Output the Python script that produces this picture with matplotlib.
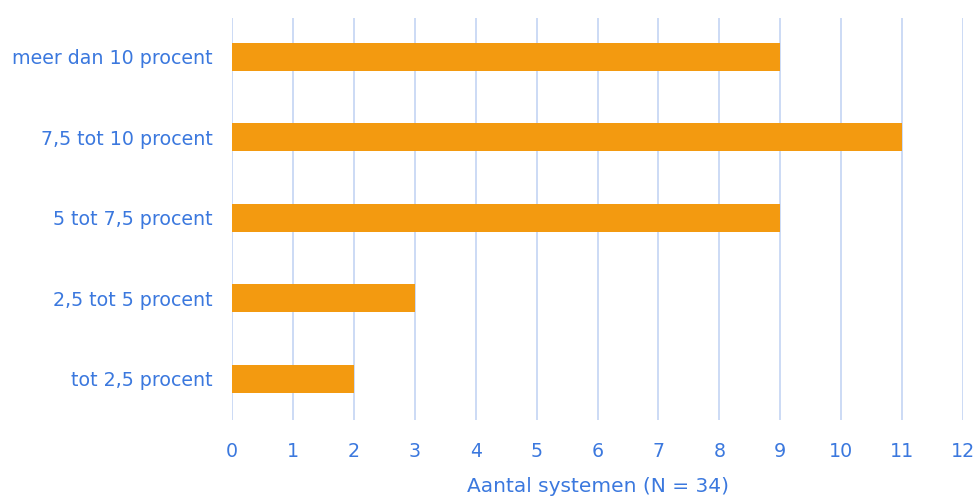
import matplotlib
matplotlib.use("Agg")
import matplotlib.pyplot as plt

categories = ["tot 2,5 procent", "2,5 tot 5 procent", "5 tot 7,5 procent", "7,5 tot 10 procent", "meer dan 10 procent"]
values = [2, 3, 9, 11, 9]
x_ticks = list(range(0, 13))
x_label = "Aantal systemen (N = 34)"

text_color = "#3B78DE"
grid_color = "#CCDAF5"
bar_color = "#F39A10"

plt.rcParams['font.family'] = ['DejaVu Sans']

fig = plt.figure(figsize=(9.76, 4.97), dpi=100)
ax = fig.add_axes([0.2377, 0.1549, 0.749, 0.809])

ax.barh(range(len(categories)), values, height=0.35, color=bar_color, zorder=3)
ax.set_yticks(range(len(categories)))
ax.set_yticklabels(categories)
ax.set_xticks(x_ticks)
ax.set_xlim(0, 12)
ax.set_ylim(-0.51, 4.48)

ax.grid(axis='x', color=grid_color, linewidth=1.4, zorder=0)
for s in ax.spines.values():
    s.set_visible(False)
ax.tick_params(axis='both', length=0, colors=text_color, labelsize=13.7)
ax.tick_params(axis='y', pad=14)
ax.tick_params(axis='x', pad=16)
ax.set_xlabel(x_label, color=text_color, fontsize=14.5, labelpad=11)

fig.savefig("out.png", dpi=100)
